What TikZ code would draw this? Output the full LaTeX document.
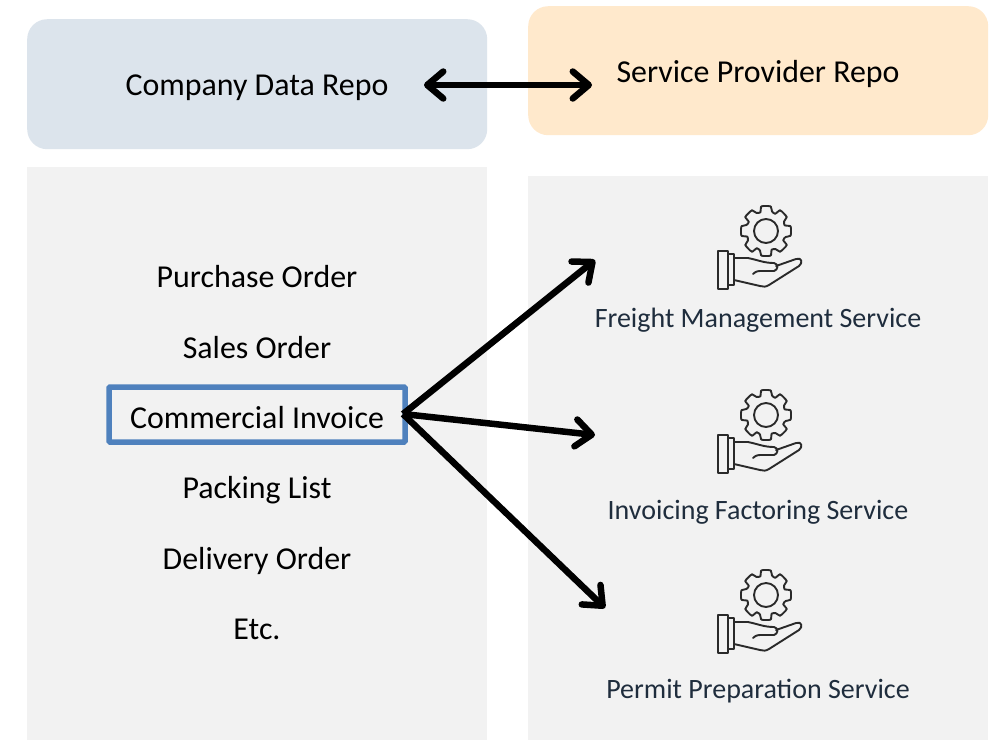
\documentclass[tikz,border=0pt]{standalone}
\usepackage{fontspec}
\setmainfont{Carlito}
\usetikzlibrary{arrows.meta}
\definecolor{repoblue}{HTML}{DCE4EC}
\definecolor{repoorange}{HTML}{FFE9CC}
\definecolor{panel}{HTML}{F2F2F2}
\definecolor{boxblue}{HTML}{4F81BD}
\definecolor{svctext}{HTML}{1F2D3D}
\definecolor{icon}{HTML}{2A2A2A}
\tikzset{
  x=1pt,y=-1pt,
  repo/.style={rounded corners=20pt,inner sep=0pt,anchor=north west},
  panelbox/.style={fill=panel,inner sep=0pt,anchor=north west},
  doc/.style={font=\fontsize{31.9}{34}\selectfont,text=black,inner sep=0pt},
  svc/.style={font=\fontsize{28}{32}\selectfont,text=svctext,inner sep=0pt},
  barb/.tip={Straight Barb[length=16pt,width=27pt,round]},
  conn/.style={draw=black,line width=6.5pt,-barb},
  iconline/.style={draw=icon,line width=1.9pt,line join=round,line cap=round},
  pics/service/.style={code={
    % gear
    \draw[iconline,fill=panel] plot[smooth cycle,tension=0.35] coordinates {
      (0:25) (11:25) (17:20.5) (28:19.5) (34:25) (45:25) (56:25) (62:20.5) (73:19.5) (79:25)
      (90:25) (101:25) (107:20.5) (118:19.5) (124:25) (135:25) (146:25) (152:20.5) (163:19.5) (169:25)
      (180:25) (191:25) (197:20.5) (208:19.5) (214:25) (225:25) (236:25) (242:20.5) (253:19.5) (259:25)
      (270:25) (281:25) (287:20.5) (298:19.5) (304:25) (315:25) (326:25) (332:20.5) (343:19.5) (349:25)};
    \draw[iconline] (0,0) circle (12);
    % cuff
    \draw[iconline] (-48,20) rectangle (-38,58);
    \draw[iconline] (-38,23) rectangle (-32,54);
    % hand
    \draw[iconline] (-32,27) -- (-18,27) .. controls (-8,29) and (-2,32) .. (8,32)
      .. controls (13,33) and (12,39) .. (8,40) -- (-6,40) .. controls (-10,40) and (-12,42) .. (-13,43);
    \draw[iconline] (10,35) -- (30,28) .. controls (36,26) and (37,32) .. (33,35)
      -- (3,54) .. controls (0,56) and (-3,56) .. (-6,55) -- (-32,49);
  }}
}
\begin{document}
\begin{tikzpicture}
\useasboundingbox (0,0) rectangle (992,740);
\path[fill=white] (0,0) rectangle (992,740);
\node[repo,fill=repoblue,minimum width=460pt,minimum height=130pt] (companybox) at (27,19) {};
\node[repo,fill=repoorange,minimum width=460pt,minimum height=129pt] (providerbox) at (528,6) {};
\node[panelbox,minimum width=460pt,minimum height=573pt] (leftpanel) at (27,167) {};
\node[panelbox,minimum width=460pt,minimum height=564pt] (rightpanel) at (528,176) {};
\node[doc] (company) at (257,88) {Company Data Repo};
\node[doc] (provider) at (758,74) {Service Provider Repo};
\node[doc] (po) at (257,277) {Purchase Order};
\node[doc] (so) at (257,348) {Sales Order};
\node[draw=boxblue,line width=5.5pt,rounded corners=1pt,minimum width=296pt,minimum height=55pt,inner sep=0pt] (invbox) at (257,414.5) {};
\node[doc] (inv) at (257,418) {Commercial Invoice};
\node[doc] (pl) at (257,490) {Packing List};
\node[doc] (do) at (257,561) {Delivery Order};
\node[doc] (etc) at (257,629) {Etc.};
\pic (icona) at (766,231) {service};
\pic (iconb) at (766,415) {service};
\pic (iconc) at (766,595) {service};
\node[svc] (freight) at (758,320) {Freight Management Service};
\node[svc] (factoring) at (758,512) {Invoicing Factoring Service};
\node[svc] (permit) at (758,691) {Permit Preparation Service};
\coordinate (dbla) at (424,85);
\coordinate (dblb) at (592,85);
\coordinate (start) at (403,414);
\coordinate (ta) at (595,260);
\coordinate (tb) at (595,435);
\coordinate (tc) at (605,608);
\draw[conn,barb-barb] (dbla) -- (dblb);
\draw[conn] (start) -- (ta);
\draw[conn] (start) -- (tb);
\draw[conn] (start) -- (tc);
\end{tikzpicture}
\end{document}
